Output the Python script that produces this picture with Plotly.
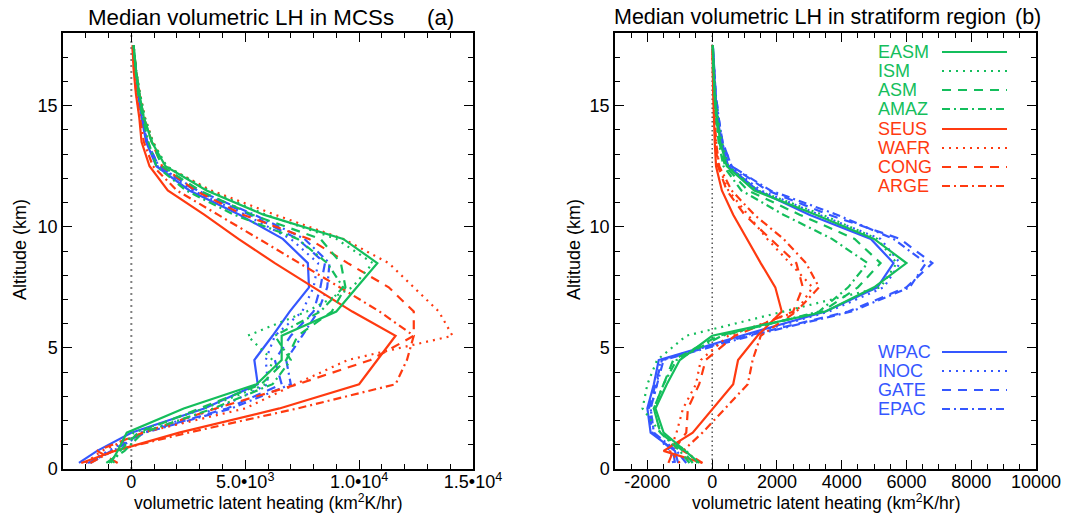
import plotly.graph_objects as go

# ---------------- data ----------------
altitude = [0.25, 0.75, 1.5, 2.5, 3.5, 4.5, 5.5, 6.5, 7.5, 8.5, 9.5,
            10.5, 11.5, 12.5, 13.5, 14.5, 15.5, 16.5, 17.5]  # km

regions = ["EASM", "ISM", "ASM", "AMAZ", "SEUS", "WAFR", "CONG", "ARGE",
           "WPAC", "INOC", "GATE", "EPAC"]

# (a) median volumetric LH in MCSs, units of 1000 km^2 K/hr
mcs_easm = [-0.9, -0.6, -0.2, 2.3, 5.5, 6.6, 6.6, 9.0, 9.9, 10.8, 9.3, 5.8, 3.3, 1.5, 0.9, 0.55, 0.35, 0.2, 0.1]
mcs_ism  = [-0.8, -0.5, 0.1, 3.2, 5.9, 6.2, 5.1, 7.7, 9.7, 10.6, 9.0, 5.9, 3.4, 1.55, 0.95, 0.6, 0.38, 0.2, 0.1]
mcs_asm  = [-1.0, -0.5, 0.3, 3.0, 5.7, 6.8, 7.3, 8.8, 9.4, 9.2, 8.3, 5.3, 3.0, 1.35, 0.9, 0.55, 0.35, 0.2, 0.1]
mcs_amaz = [-1.1, -0.3, 0.5, 3.6, 6.2, 7.0, 6.3, 8.3, 9.3, 8.6, 7.3, 4.5, 2.4, 1.1, 0.75, 0.5, 0.3, 0.18, 0.1]
mcs_seus = [-2.2, -0.7, 2.1, 6.5, 10.0, 10.8, 11.6, 9.7, 8.0, 6.3, 4.7, 3.2, 1.6, 0.8, 0.45, 0.35, 0.2, 0.1, 0.05]
mcs_wafr = [-2.0, -1.3, 0.5, 5.0, 7.2, 9.5, 14.1, 13.5, 12.4, 11.3, 9.3, 6.3, 3.5, 1.5, 0.95, 0.6, 0.38, 0.2, 0.1]
mcs_cong = [-0.6, -1.5, 0.5, 3.7, 7.3, 10.5, 12.4, 12.4, 11.3, 9.5, 7.8, 4.9, 2.8, 1.35, 0.9, 0.55, 0.35, 0.2, 0.1]
mcs_arge = [-1.8, -0.8, 2.5, 7.3, 11.6, 12.1, 12.4, 10.9, 9.15, 7.4, 5.6, 3.8, 2.0, 0.95, 0.55, 0.38, 0.22, 0.12, 0.05]
mcs_wpac = [-2.3, -1.5, 0.0, 3.2, 5.55, 5.4, 6.2, 6.95, 7.8, 7.75, 6.65, 4.75, 2.55, 1.1, 0.65, 0.45, 0.3, 0.18, 0.08]
mcs_inoc = [-2.0, -1.0, 0.4, 3.8, 6.0, 5.9, 6.3, 7.5, 8.0, 8.2, 7.0, 5.0, 2.7, 1.15, 0.7, 0.45, 0.3, 0.18, 0.08]
mcs_gate = [-1.8, -0.9, 0.5, 4.2, 6.6, 6.3, 7.0, 8.0, 8.3, 8.5, 7.3, 5.2, 2.8, 1.2, 0.7, 0.48, 0.32, 0.2, 0.08]
mcs_epac = [-1.9, -0.8, 0.6, 4.4, 7.0, 6.8, 7.5, 8.2, 8.6, 8.7, 7.6, 5.4, 2.9, 1.2, 0.7, 0.48, 0.32, 0.2, 0.08]

# (b) median volumetric LH in stratiform region, units of 1000 km^2 K/hr
str_easm = [-0.4, -0.85, -1.5, -1.75, -1.4, -1.0, 0.0, 3.5, 5.0, 6.0, 5.0, 3.2, 1.3, 0.45, 0.25, 0.15, 0.08, 0.04, 0.02]
str_ism  = [-0.45, -0.8, -1.6, -2.15, -2.0, -1.7, -0.8, 2.2, 5.2, 5.7, 5.1, 3.4, 1.4, 0.5, 0.3, 0.18, 0.1, 0.05, 0.02]
str_asm  = [-0.6, -0.9, -1.6, -1.8, -1.5, -1.2, 0.2, 3.4, 4.5, 5.2, 4.4, 2.7, 1.1, 0.4, 0.22, 0.13, 0.07, 0.04, 0.02]
str_amaz = [-0.7, -1.0, -1.6, -1.8, -1.5, -1.1, 0.3, 3.3, 4.2, 4.8, 3.7, 2.2, 0.9, 0.35, 0.2, 0.12, 0.07, 0.04, 0.02]
str_seus = [-0.3, -1.5, -0.6, 0.03, 0.65, 0.8, 1.4, 2.15, 1.95, 1.5, 1.07, 0.65, 0.3, 0.12, 0.08, 0.05, 0.03, 0.02, 0.01]
str_wafr = [-1.0, -1.3, -1.1, -0.9, -0.5, -0.35, 0.5, 2.6, 3.1, 2.4, 1.7, 1.1, 0.5, 0.2, 0.12, 0.08, 0.05, 0.03, 0.01]
str_cong = [-1.35, -1.2, -0.8, -0.75, -0.4, -0.2, 0.7, 2.5, 2.8, 2.6, 1.8, 1.0, 0.45, 0.18, 0.1, 0.07, 0.04, 0.02, 0.01]
str_arge = [-0.3, -0.9, -0.3, 0.4, 1.1, 1.25, 1.5, 2.6, 3.3, 2.9, 2.2, 1.3, 0.6, 0.22, 0.12, 0.08, 0.05, 0.03, 0.01]
str_wpac = [-1.05, -1.15, -1.9, -2.0, -1.8, -1.65, 0.9, 3.5, 5.1, 5.6, 4.9, 3.0, 1.4, 0.5, 0.28, 0.17, 0.1, 0.05, 0.02]
str_inoc = [-1.2, -1.3, -1.8, -1.9, -1.7, -1.6, 1.0, 3.6, 5.3, 5.8, 5.2, 3.3, 1.5, 0.55, 0.3, 0.18, 0.1, 0.05, 0.02]
str_gate = [-1.15, -1.2, -1.85, -1.95, -1.75, -1.55, 1.1, 4.2, 6.0, 6.8, 5.8, 3.6, 1.7, 0.6, 0.32, 0.2, 0.11, 0.06, 0.02]
str_epac = [-0.8, -1.1, -1.8, -1.9, -1.7, -1.5, 1.2, 4.3, 6.1, 6.6, 5.6, 3.85, 1.8, 0.6, 0.32, 0.2, 0.11, 0.06, 0.02]

left_ticks = [0, 5000, 10000, 15000]
left_ticktext = ["0", "5.0\u202210<sup>3</sup>", "1.0\u202210<sup>4</sup>", "1.5\u202210<sup>4</sup>"]
right_ticks = [-2000, 0, 2000, 4000, 6000, 8000, 10000]
right_ticktext = ["-2000", "0", "2000", "4000", "6000", "8000", "10000"]
alt_ticks = [0, 5, 10, 15]
alt_ticktext = ["0", "5", "10", "15"]

# ---------------- styles ----------------
GREEN = "#14BE5C"
RED = "#FF3A10"
BLUE = "#3557FF"
DOT = "2px,5px"
DASH = "9px,7px"
DASHDOT = "8px,4px,2px,4px"

style = {
    "EASM": (GREEN, "solid"), "ISM": (GREEN, DOT), "ASM": (GREEN, DASH), "AMAZ": (GREEN, DASHDOT),
    "SEUS": (RED, "solid"), "WAFR": (RED, DOT), "CONG": (RED, DASH), "ARGE": (RED, DASHDOT),
    "WPAC": (BLUE, "solid"), "INOC": (BLUE, DOT), "GATE": (BLUE, DASH), "EPAC": (BLUE, DASHDOT),
}

mcs = [mcs_easm, mcs_ism, mcs_asm, mcs_amaz, mcs_seus, mcs_wafr, mcs_cong, mcs_arge,
       mcs_wpac, mcs_inoc, mcs_gate, mcs_epac]
strat = [str_easm, str_ism, str_asm, str_amaz, str_seus, str_wafr, str_cong, str_arge,
         str_wpac, str_inoc, str_gate, str_epac]

FONT = "Liberation Sans, Arial, Helvetica, sans-serif"
W, H = 1067, 518

fig = go.Figure()

order = [8, 9, 10, 11, 4, 5, 6, 7, 0, 1, 2, 3]
for i in order:
    name = regions[i]
    col, dash = style[name]
    fig.add_trace(go.Scatter(x=[v * 1000 for v in mcs[i]], y=altitude, mode="lines",
                             line=dict(color=col, width=2.2, dash=dash),
                             xaxis="x", yaxis="y", showlegend=False, name=name))
for i in order:
    name = regions[i]
    col, dash = style[name]
    fig.add_trace(go.Scatter(x=[v * 1000 for v in strat[i]], y=altitude, mode="lines",
                             line=dict(color=col, width=2.2, dash=dash),
                             xaxis="x2", yaxis="y2", showlegend=False, name=name))


def px_x(p):
    return p / W


def px_y(p):
    return 1 - p / H


top_px, bot_px = 33, 469
dom_y = [px_y(bot_px), px_y(top_px)]

axis_common = dict(showline=True, linecolor="black", linewidth=1.5, mirror="allticks",
                   ticks="inside", ticklen=9, tickcolor="black", tickwidth=1.2,
                   showgrid=False, zeroline=False, automargin=False,
                   tickfont=dict(family=FONT, size=18, color="black"))

fig.update_layout(
    width=W, height=H,
    margin=dict(l=0, r=0, t=0, b=0, autoexpand=False),
    paper_bgcolor="white", plot_bgcolor="white",
    font=dict(family=FONT, color="black"),
    xaxis=dict(domain=[px_x(63), px_x(473)], range=[-3000, 15000], anchor="y",
               tickvals=left_ticks, ticktext=left_ticktext, ticklabelstandoff=-4,
               minor=dict(dtick=1000, tick0=0, ticks="inside", ticklen=5, tickcolor="black"),
               **axis_common),
    yaxis=dict(domain=dom_y, range=[0, 18], anchor="x",
               tickvals=alt_ticks, ticktext=alt_ticktext,
               minor=dict(dtick=1, tick0=0, ticks="inside", ticklen=5, tickcolor="black"),
               **axis_common),
    xaxis2=dict(domain=[px_x(615), px_x(1036)], range=[-3000, 10000], anchor="y2",
                tickvals=right_ticks, ticktext=right_ticktext, ticklabelstandoff=-4,
                minor=dict(dtick=500, tick0=0, ticks="inside", ticklen=5, tickcolor="black"),
                **axis_common),
    yaxis2=dict(domain=dom_y, range=[0, 18], anchor="x2",
                tickvals=alt_ticks, ticktext=alt_ticktext,
                minor=dict(dtick=1, tick0=0, ticks="inside", ticklen=5, tickcolor="black"),
                **axis_common),
)

# zero reference lines
fig.add_shape(type="line", xref="x", yref="y domain", x0=0, x1=0, y0=0, y1=1,
              line=dict(color="#808080", width=2, dash="2px,4px"), layer="below")
fig.add_shape(type="line", xref="x2", yref="y2 domain", x0=0, x1=0, y0=0, y1=1,
              line=dict(color="black", width=1, dash="1.5px,3px"), layer="below")


def text(s, x, y, size, color="black", anchor="left", angle=0):
    fig.add_annotation(text=s, xref="paper", yref="paper", x=px_x(x), y=px_y(y),
                       xanchor=anchor, yanchor="middle", showarrow=False, textangle=angle,
                       font=dict(family=FONT, size=size, color=color))


# panel titles
text("Median volumetric LH in MCSs", 86, 17, 22.3)
text("(a)", 425, 17, 22.3)
text("Median volumetric LH in stratiform region", 612, 17, 21.5)
text("(b)", 1013, 17, 21.5)

# axis titles
xlab = "volumetric latent heating (km<sup>2</sup>K/hr)"
text(xlab, 268, 502, 17.5, anchor="center")
text(xlab, 826, 502, 17.5, anchor="center")
text("Altitude (km)", 20, 250, 18, anchor="center", angle=-90)
text("Altitude (km)", 574, 250, 18, anchor="center", angle=-90)

# legends (text then line sample)
legend_rows_top = [52, 71, 90, 109, 129, 148, 167, 186]
legend_rows_bot = [352, 371, 390, 409]
rows = list(zip(regions[:8], legend_rows_top)) + list(zip(regions[8:], legend_rows_bot))
for name, ypx in rows:
    col, dash = style[name]
    text(name, 876, ypx, 18, color=col)
    fig.add_shape(type="line", xref="paper", yref="paper", x0=px_x(942), x1=px_x(1007),
                  y0=px_y(ypx), y1=px_y(ypx), line=dict(color=col, width=2.2, dash=dash))

fig.write_html("out.html")
